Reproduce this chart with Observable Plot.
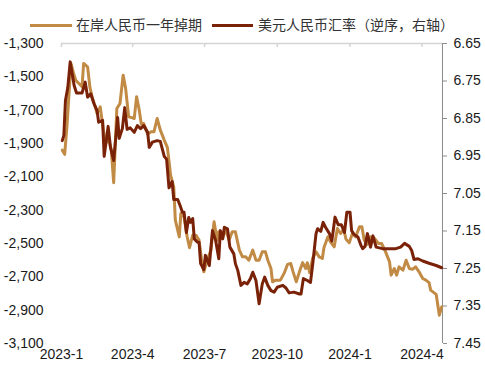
<!DOCTYPE html>
<html><head><meta charset="utf-8">
<script src="https://cdn.jsdelivr.net/npm/d3@7"></script>
<script src="https://cdn.jsdelivr.net/npm/@observablehq/plot@0.6"></script>
<style>
body{margin:0;background:#fff;font-family:"Liberation Sans",Arial,"Noto Sans CJK SC",sans-serif;}
#legend{position:relative;height:36px;width:485px;font-size:14px;color:#333;}
.sw{position:absolute;height:3px;top:24px;}
.lt{position:absolute;top:16px;line-height:18px;white-space:nowrap;}
</style></head><body>
<div id="legend"></div>
<div id="chart"></div>
<script>
// ---- data ----
const seriesNames = ["在岸人民币一年掉期", "美元人民币汇率（逆序，右轴）"];
const seriesColors = ["#C28B45", "#7A2208"];

const swapDates = ["2023-01-02","2023-01-05","2023-01-08","2023-01-10","2023-01-13","2023-01-16","2023-01-19","2023-01-23","2023-01-27","2023-01-29",
"2023-02-03","2023-02-06","2023-02-09","2023-02-13","2023-02-15","2023-02-19","2023-02-23","2023-02-26","2023-03-01","2023-03-05",
"2023-03-08","2023-03-12","2023-03-16","2023-03-20","2023-03-23","2023-03-27","2023-03-31","2023-04-03","2023-04-06","2023-04-09",
"2023-04-12","2023-04-15","2023-04-20","2023-04-24","2023-04-28","2023-05-02","2023-05-06","2023-05-11","2023-05-15","2023-05-19",
"2023-05-23","2023-05-25","2023-05-30","2023-06-01","2023-06-05","2023-06-09","2023-06-12","2023-06-16","2023-06-20","2023-06-24",
"2023-06-27","2023-06-30","2023-07-05","2023-07-09","2023-07-13","2023-07-17","2023-07-19","2023-07-24","2023-07-28","2023-08-01",
"2023-08-05","2023-08-09","2023-08-14","2023-08-18","2023-08-22","2023-08-26","2023-08-31","2023-09-04","2023-09-08","2023-09-12",
"2023-09-16","2023-09-19","2023-09-23","2023-09-25","2023-09-29","2023-10-05","2023-10-10","2023-10-14","2023-10-18","2023-10-21",
"2023-10-25","2023-10-29","2023-11-02","2023-11-06","2023-11-08","2023-11-11","2023-11-15","2023-11-19","2023-11-23","2023-11-27",
"2023-11-29","2023-12-04","2023-12-08","2023-12-12","2023-12-16","2023-12-20","2023-12-24","2023-12-27","2023-12-31","2024-01-04",
"2024-01-08","2024-01-13","2024-01-16","2024-01-19","2024-01-23","2024-01-27","2024-02-01","2024-02-06","2024-02-10","2024-02-15",
"2024-02-20","2024-02-22","2024-02-26","2024-02-29","2024-03-03","2024-03-08","2024-03-12","2024-03-16","2024-03-20","2024-03-24",
"2024-03-29","2024-04-02","2024-04-06","2024-04-10","2024-04-12","2024-04-19","2024-04-23","2024-04-26"];
const swapValues = [-1940,-1965,-1790,-1640,-1420,-1475,-1520,-1540,-1560,-1420,
-1440,-1565,-1625,-1685,-1720,-1680,-1820,-1900,-1865,-1940,
-2135,-1690,-1660,-1490,-1565,-1740,-1745,-1750,-1620,-1690,
-1785,-1780,-1845,-1830,-1830,-1750,-1820,-1880,-1925,-2090,
-2160,-2360,-2460,-2320,-2340,-2460,-2525,-2450,-2450,-2480,
-2590,-2670,-2590,-2540,-2370,-2480,-2430,-2460,-2420,-2480,
-2430,-2430,-2540,-2580,-2580,-2600,-2540,-2600,-2600,-2550,
-2550,-2600,-2650,-2730,-2720,-2720,-2675,-2625,-2620,-2670,
-2730,-2670,-2615,-2650,-2615,-2675,-2585,-2550,-2580,-2590,
-2525,-2460,-2495,-2520,-2410,-2440,-2415,-2475,-2495,-2440,
-2460,-2400,-2400,-2480,-2505,-2460,-2470,-2500,-2500,-2550,
-2610,-2690,-2650,-2690,-2640,-2660,-2600,-2650,-2655,-2640,
-2675,-2710,-2720,-2735,-2780,-2805,-2930,-2880];

const fxDates = ["2023-01-02","2023-01-04","2023-01-06","2023-01-09","2023-01-12","2023-01-17","2023-01-20","2023-01-27","2023-01-31","2023-02-03",
"2023-02-07","2023-02-11","2023-02-15","2023-02-17","2023-02-22","2023-02-24","2023-03-01","2023-03-04","2023-03-08","2023-03-13",
"2023-03-15","2023-03-19","2023-03-22","2023-03-25","2023-03-29","2023-04-03","2023-04-07","2023-04-11","2023-04-15","2023-04-20",
"2023-04-22","2023-04-26","2023-05-02","2023-05-06","2023-05-11","2023-05-14","2023-05-17","2023-05-21","2023-05-23","2023-05-28",
"2023-05-31","2023-06-03","2023-06-05","2023-06-08","2023-06-11","2023-06-13","2023-06-16","2023-06-18","2023-06-22","2023-06-24",
"2023-06-26","2023-06-30","2023-07-02","2023-07-07","2023-07-11","2023-07-15","2023-07-19","2023-07-21","2023-07-24","2023-07-26",
"2023-07-30","2023-08-02","2023-08-07","2023-08-09","2023-08-12","2023-08-16","2023-08-20","2023-08-24","2023-08-28","2023-08-31",
"2023-09-04","2023-09-08","2023-09-12","2023-09-15","2023-09-19","2023-09-23","2023-09-27","2023-10-01","2023-10-08","2023-10-12",
"2023-10-16","2023-10-22","2023-10-29","2023-10-31","2023-11-03","2023-11-08","2023-11-12","2023-11-15","2023-11-19","2023-11-21",
"2023-11-25","2023-11-28","2023-12-01","2023-12-06","2023-12-09","2023-12-13","2023-12-17","2023-12-21","2023-12-25","2023-12-28",
"2024-01-01","2024-01-03","2024-01-06","2024-01-11","2024-01-15","2024-01-17","2024-01-20","2024-01-23","2024-01-27","2024-01-30",
"2024-02-03","2024-02-07","2024-02-11","2024-02-19","2024-02-28","2024-03-05","2024-03-10","2024-03-16","2024-03-19","2024-03-22",
"2024-03-27","2024-04-02","2024-04-10","2024-04-19","2024-04-26"];
const fxValues = [6.909,6.895,6.802,6.767,6.699,6.762,6.782,6.782,6.753,6.793,
6.784,6.810,6.829,6.860,6.855,6.951,6.871,6.927,6.962,6.847,
6.903,6.877,6.821,6.879,6.875,6.887,6.869,6.877,6.869,6.887,
6.927,6.913,6.909,6.911,6.951,6.959,7.035,7.018,7.066,7.066,
7.082,7.100,7.100,7.154,7.114,7.127,7.117,7.171,7.180,7.180,
7.237,7.253,7.215,7.242,7.149,7.175,7.224,7.149,7.171,7.140,
7.144,7.193,7.211,7.237,7.255,7.295,7.287,7.291,7.277,7.260,
7.282,7.344,7.291,7.273,7.295,7.309,7.313,7.300,7.295,7.302,
7.315,7.313,7.318,7.318,7.277,7.282,7.287,7.235,7.157,7.144,
7.151,7.127,7.140,7.157,7.177,7.113,7.133,7.133,7.154,7.100,
7.100,7.149,7.159,7.166,7.189,7.197,7.191,7.157,7.193,7.163,
7.193,7.195,7.197,7.197,7.197,7.193,7.183,7.191,7.202,7.226,
7.224,7.230,7.236,7.242,7.248];

const leftTicks = [-3100,-2900,-2700,-2500,-2300,-2100,-1900,-1700,-1500,-1300];
const rightTicks = [6.65,6.75,6.85,6.95,7.05,7.15,7.25,7.35,7.45];
const xTickDates = ["2023-01-01","2023-04-01","2023-07-01","2023-10-01","2024-01-01","2024-04-01"];
const xTickLabels = ["2023-1","2023-4","2023-7","2023-10","2024-1","2024-4"];
const xDomain = ["2023-01-01","2024-04-27"];

// ---- legend ----
const lg = document.getElementById("legend");
lg.innerHTML =
 `<div class="sw" style="left:30px;width:42px;background:${seriesColors[0]}"></div>` +
 `<div class="lt" style="left:76px">${seriesNames[0]}</div>` +
 `<div class="sw" style="left:212px;width:41px;background:${seriesColors[1]}"></div>` +
 `<div class="lt" style="left:258px">${seriesNames[1]}</div>`;

// ---- chart ----
const parse = d3.utcParse("%Y-%m-%d");
const lMin = d3.min(leftTicks), lMax = d3.max(leftTicks);
const rMin = d3.min(rightTicks), rMax = d3.max(rightTicks);
const toLeft = r => lMax - (r - rMin) / (rMax - rMin) * (lMax - lMin);
const fromLeft = v => rMin + (lMax - v) / (lMax - lMin) * (rMax - rMin);

const swap = swapDates.map((d, i) => ({date: parse(d), v: swapValues[i]}));
const fx = fxDates.map((d, i) => ({date: parse(d), v: toLeft(fxValues[i])}));
const xt = xTickDates.map(parse);
const dom = xDomain.map(parse);
const leftFmt = v => (v < 0 ? "-" : "") + d3.format(",")(Math.abs(v));

const H = 342, MT = 7, MB = 35;
const chart = Plot.plot({
  width: 485, height: H,
  marginTop: MT, marginBottom: MB, marginLeft: 61, marginRight: 43,
  x: {type: "utc", domain: dom},
  y: {domain: [lMin, lMax]},
  style: {fontFamily: '"Liberation Sans", Arial, sans-serif', fontSize: "14px", color: "#1a1a1a", background: "#fff", overflow: "visible"},
  marks: [
    Plot.ruleY([lMax], {stroke: "#d4d4d4", strokeWidth: 1.5}),
    Plot.ruleX(xt, {x: d => d, stroke: "#d4d4d4", strokeWidth: 1.5, insetBottom: H - MT - MB - 4}),
    Plot.ruleX([dom[1]], {stroke: "#8c8c8c", strokeWidth: 1}),
    Plot.axisY({anchor: "left", ticks: leftTicks, tickSize: 0, tickPadding: 18, tickFormat: leftFmt, label: null}),
    Plot.axisY({anchor: "right", ticks: rightTicks.map(toLeft), tickSize: 4, tickPadding: 7, stroke: "#8c8c8c",
      tickFormat: v => fromLeft(v).toFixed(2), label: null}),
    Plot.axisX({anchor: "bottom", ticks: xt, tickSize: 0, tickPadding: 6,
      tickFormat: d => xTickLabels[xt.findIndex(t => +t === +d)], label: null}),
    Plot.lineY(swap, {x: "date", y: "v", stroke: seriesColors[0], strokeWidth: 3, strokeLinejoin: "round"}),
    Plot.lineY(fx, {x: "date", y: "v", stroke: seriesColors[1], strokeWidth: 3, strokeLinejoin: "round"})
  ]
});
document.getElementById("chart").appendChild(chart);
</script>
</body></html>
